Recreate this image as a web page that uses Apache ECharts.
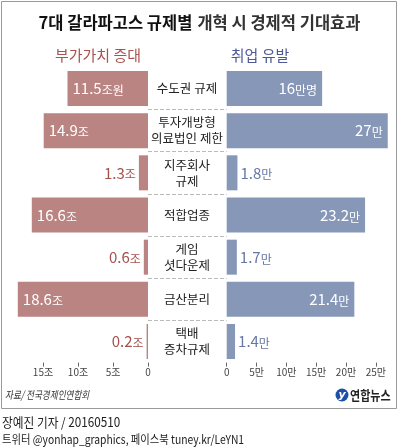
<!DOCTYPE html>
<html>
<head>
<meta charset="utf-8">
<script src="https://cdn.jsdelivr.net/npm/echarts@6/dist/echarts.min.js"></script>
<style>
  html, body { margin: 0; padding: 0; background: #fff; }
  #chart { width: 399px; height: 448px; }
</style>
</head>
<body>
<div id="chart"></div>
<script>
const categories = ["수도권 규제", "투자개방형\n의료법인 제한", "지주회사\n규제", "적합업종", "게임\n셧다운제", "금산분리", "택배\n증차규제"];
const valueAdded = [11.5, 14.9, 1.3, 16.6, 0.6, 18.6, 0.2];   // 조
const jobs = [16, 27, 1.8, 23.2, 1.7, 21.4, 1.4];              // 만
const valueUnits = ["조원", "조", "조", "조", "조", "조", "조"];
const jobUnits = ["만명", "만", "만", "만", "만", "만", "만"];
const leftTicks = [0, 5, 10, 15];
const rightTicks = [0, 5, 10, 15, 20, 25];

const KR = "Noto Sans CJK KR";
const leftColor = "#b98481";
const rightColor = "#8697b7";
const leftText = "#a4504b";
const rightText = "#6677a6";

const top0 = 67.4;
const rowH = 42.17;

function labelRich(color) {
  return {
    n: { fontFamily: KR, fontSize: 15, color: color, lineHeight: 18 },
    u: { fontFamily: KR, fontSize: 12, color: color, lineHeight: 18, verticalAlign: "bottom", padding: [0, 0, 1, 0] }
  };
}

function barData(values, units, side) {
  return values.map((v, i) => {
    const big = v > 3;
    const color = big ? "#fff" : (side === "left" ? leftText : rightText);
    let position;
    if (side === "left") position = big ? "insideLeft" : "left";
    else position = big ? "insideRight" : "right";
    return {
      value: v,
      label: {
        show: true,
        position: position,
        distance: big ? 5 : 3,
        formatter: "{n|" + v + "}{u|" + units[i] + "}",
        rich: labelRich(color)
      }
    };
  });
}

const chart = echarts.init(document.getElementById("chart"));
chart.setOption({
  animation: false,
  title: {
    text: "{b|7대 갈라파고스 규제별} {r|개혁 시 경제적 기대효과}",
    left: "center",
    top: 9,
    textStyle: {
      rich: {
        b: { fontFamily: KR, fontSize: 16.5, fontWeight: "bold", color: "#111" },
        r: { fontFamily: KR, fontSize: 16.5, color: "#333" }
      }
    }
  },
  grid: [
    { left: 8, top: top0, width: 140, height: rowH * 7 },
    { left: 226.7, top: top0, width: 167, height: rowH * 7 },
    { left: 148, top: top0 + rowH, width: 78.7, height: rowH * 5 }
  ],
  xAxis: [
    {
      gridIndex: 0, type: "value", min: 0, max: 20, inverse: true,
      axisLine: { show: false },
      splitLine: { show: false },
      axisTick: { show: true, customValues: leftTicks, length: 4, lineStyle: { color: "#666" } },
      axisLabel: {
        customValues: leftTicks, margin: 5, fontSize: 10, color: "#444", fontFamily: KR,
        formatter: v => (v === 0 ? "0" : v + "조")
      }
    },
    {
      gridIndex: 1, type: "value", min: 0, max: 28,
      axisLine: { show: false },
      splitLine: { show: false },
      axisTick: { show: true, customValues: rightTicks, length: 4, lineStyle: { color: "#666" } },
      axisLabel: {
        customValues: rightTicks, margin: 5, fontSize: 10, color: "#444", fontFamily: KR,
        formatter: v => (v === 0 ? "0" : v + "만")
      }
    },
    { gridIndex: 2, type: "value", show: false, min: 0, max: 1 }
  ],
  yAxis: [
    {
      gridIndex: 0, type: "category", data: categories, inverse: true, position: "right",
      axisLine: { show: false }, axisTick: { show: false },
      axisLabel: { align: "center", margin: 39, fontFamily: KR, fontSize: 12.5, color: "#222", lineHeight: 16 }
    },
    {
      gridIndex: 1, type: "category", data: categories, inverse: true,
      axisLine: { show: false }, axisTick: { show: false }, axisLabel: { show: false }
    },
    {
      gridIndex: 2, type: "value", min: 1, max: 6, interval: 1,
      axisLine: { show: false }, axisTick: { show: false }, axisLabel: { show: false },
      splitLine: { show: true, lineStyle: { color: "#bbb", type: [4, 2], width: 1 } }
    }
  ],
  series: [
    {
      name: "부가가치 증대", type: "bar", xAxisIndex: 0, yAxisIndex: 0,
      barWidth: 35, itemStyle: { color: leftColor },
      data: barData(valueAdded, valueUnits, "left")
    },
    {
      name: "취업 유발", type: "bar", xAxisIndex: 1, yAxisIndex: 1,
      barWidth: 35, itemStyle: { color: rightColor },
      data: barData(jobs, jobUnits, "right")
    }
  ],
  graphic: [
    {
      type: "rect", silent: true, z: -1,
      shape: { x: 1.5, y: 1.5, width: 395, height: 407 },
      style: { fill: "none", stroke: "#9a9a9a", lineWidth: 1 }
    },
    {
      type: "text", x: 98, y: 55,
      style: { text: "부가가치 증대", fontFamily: KR, fontSize: 15, fill: "#a9534e", align: "center", verticalAlign: "middle" }
    },
    {
      type: "text", x: 260, y: 55,
      style: { text: "취업 유발", fontFamily: KR, fontSize: 15, fill: "#4f5896", align: "center", verticalAlign: "middle" }
    },
    {
      type: "text", x: 5, y: 395, scaleX: 0.78,
      style: { text: "자료/ 전국경제인연합회", fontFamily: KR, fontSize: 11, fontStyle: "italic", fill: "#333", verticalAlign: "middle" }
    },
    {
      type: "circle", shape: { cx: 342, cy: 395, r: 6.5 },
      style: { fill: "#1d4fa8" }
    },
    {
      type: "text", x: 342, y: 395,
      style: { text: "y", fontFamily: "DejaVu Sans", fontSize: 11, fontWeight: "bold", fontStyle: "italic", fill: "#fff", align: "center", verticalAlign: "middle" }
    },
    {
      type: "text", x: 350, y: 395, scaleX: 0.85,
      style: { text: "연합뉴스", fontFamily: KR, fontSize: 13, fontWeight: "bold", fill: "#222", verticalAlign: "middle" }
    },
    {
      type: "text", x: 2, y: 422, scaleX: 0.9,
      style: { text: "장예진 기자 / 20160510", fontFamily: KR, fontSize: 13, fill: "#222", verticalAlign: "middle" }
    },
    {
      type: "text", x: 2, y: 439, scaleX: 0.86,
      style: { text: "트위터 @yonhap_graphics, 페이스북 tuney.kr/LeYN1", fontFamily: KR, fontSize: 12, fill: "#222", verticalAlign: "middle" }
    }
  ]
});
</script>
</body>
</html>
